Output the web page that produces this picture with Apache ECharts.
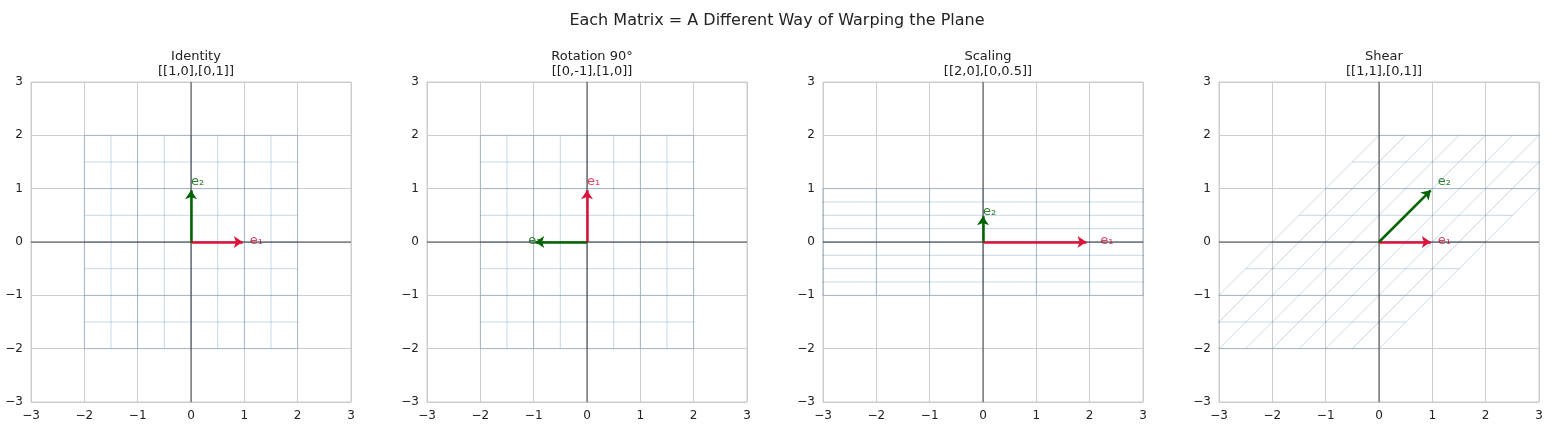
<!DOCTYPE html><html><head><meta charset="utf-8">
<script src="https://cdn.jsdelivr.net/npm/echarts@6/dist/echarts.min.js"></script>
<style>html,body{margin:0;background:#fff}#c{width:1554px;height:431px}</style></head><body><div id="c"></div>
<script>
const titles = ["Identity\n[[1,0],[0,1]]", "Rotation 90°\n[[0,-1],[1,0]]", "Scaling\n[[2,0],[0,0.5]]", "Shear\n[[1,1],[0,1]]"];
const matrices = [[[1,0],[0,1]], [[0,-1],[1,0]], [[2,0],[0,0.5]], [[1,1],[0,1]]];
const gridValues = [-2,-1.5,-1,-0.5,0,0.5,1,1.5,2];
const lefts = [31, 427, 823, 1219];
const chart = echarts.init(document.getElementById('c'));
const grids=[], xAxes=[], yAxes=[], series=[];
const titleComps=[{text:'Each Matrix = A Different Way of Warping the Plane',left:'center',top:8,textStyle:{color:'#222',fontSize:16,fontWeight:'normal',fontFamily:'DejaVu Sans'}}];
const tf=(M,x,y)=>[M[0][0]*x+M[0][1]*y, M[1][0]*x+M[1][1]*y];
matrices.forEach((M,i)=>{
  grids.push({left:lefts[i],top:82,width:320,height:320,show:true,borderColor:'#ccc',borderWidth:1});
  const ax={gridIndex:i,type:'value',min:-3,max:3,interval:1,axisLine:{show:false},axisTick:{show:false},
    axisLabel:{color:'#222',fontSize:12,fontFamily:'DejaVu Sans',formatter:v=>String(v).replace('-','−')},splitLine:{lineStyle:{color:'#ccc',width:1}}};
  xAxes.push(Object.assign({},ax)); yAxes.push(Object.assign({},ax));
  titleComps.push({text:titles[i],left:lefts[i]+160,textAlign:'center',top:44,textStyle:{color:'#222',fontSize:13,fontWeight:'normal',fontFamily:'DejaVu Sans',lineHeight:15}});
  const ls={color:'rgba(70,130,180,0.3)',width:1};
  const line=(pts,style)=>series.push({type:'line',xAxisIndex:i,yAxisIndex:i,data:pts,symbol:'none',silent:true,lineStyle:style,clip:true,animation:false});
  gridValues.forEach(v=>{
    line([tf(M,v,-2),tf(M,v,2)],ls);
    line([tf(M,-2,v),tf(M,2,v)],ls);
  });
  line([[-3,0],[3,0]],{color:'#000',width:0.7});
  line([[0,-3],[0,3]],{color:'#000',width:0.7});
  const e1=tf(M,1,0), e2=tf(M,0,1);
  [[e1,'crimson','e₁'],[e2,'darkgreen','e₂']].forEach(([v,col,lab])=>{
    series.push({type:'lines',coordinateSystem:'cartesian2d',xAxisIndex:i,yAxisIndex:i,symbol:['none','arrow'],symbolSize:9,
      lineStyle:{color:col,width:2.5,opacity:1},data:[{coords:[[0,0],[v[0]*0.97,v[1]*0.97]]}],animation:false,z:5});
    series.push({type:'scatter',xAxisIndex:i,yAxisIndex:i,symbolSize:0,data:[[v[0]*1.1,v[1]*1.1]],animation:false,
      label:{show:true,formatter:lab,position:'inside',align:'left',verticalAlign:'bottom',color:col,fontSize:13,fontFamily:'DejaVu Sans',offset:[0,5]}});
  });
});
chart.setOption({animation:false,title:titleComps,grid:grids,xAxis:xAxes,yAxis:yAxes,series:series});
</script></body></html>
